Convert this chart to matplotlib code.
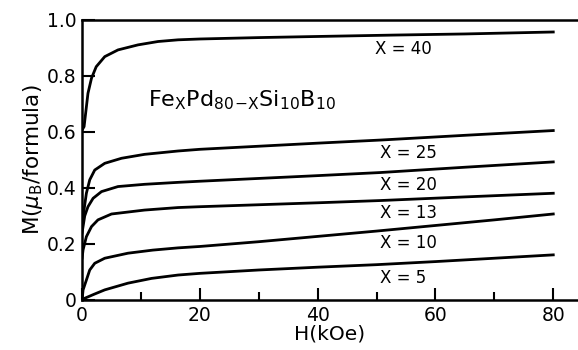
import matplotlib
matplotlib.use('Agg')
import matplotlib.pyplot as plt

# M(H) curves, H in kOe, M in muB/formula
h40 = [0, 0.34, 1.0, 1.6, 2.4, 3.85, 6.1, 9.5, 12.9, 16.3, 20, 30, 40, 53, 65, 80]
m40 = [0.607, 0.619, 0.738, 0.792, 0.833, 0.869, 0.893, 0.911, 0.923, 0.929, 0.932, 0.937, 0.941, 0.946, 0.950, 0.957]

h25 = [0, 0.17, 0.73, 1.3, 2.15, 3.85, 6.7, 10.6, 16.3, 20, 30, 40, 50.6, 65, 80]
m25 = [0.26, 0.298, 0.381, 0.429, 0.464, 0.488, 0.506, 0.520, 0.532, 0.538, 0.549, 0.560, 0.571, 0.588, 0.605]

h20 = [0, 0.45, 1.0, 1.87, 3.3, 6.1, 10.6, 16.3, 20, 30, 40, 50.6, 65, 80]
m20 = [0.24, 0.30, 0.333, 0.363, 0.387, 0.405, 0.413, 0.420, 0.424, 0.434, 0.444, 0.455, 0.474, 0.493]

h13 = [0, 0.17, 0.73, 1.6, 2.7, 5.0, 10.6, 16.3, 20, 30, 40, 50.6, 65, 80]
m13 = [0.15, 0.179, 0.226, 0.262, 0.286, 0.307, 0.321, 0.330, 0.333, 0.340, 0.347, 0.355, 0.368, 0.381]

h10 = [0, 0.17, 0.73, 1.3, 2.15, 3.85, 7.8, 12, 16.3, 20, 30, 40, 50, 60, 70, 80]
m10 = [0.0, 0.036, 0.071, 0.107, 0.131, 0.149, 0.167, 0.178, 0.186, 0.191, 0.208, 0.227, 0.246, 0.266, 0.286, 0.307]

h5 = [0, 0.45, 2.0, 3.85, 7.8, 11.8, 16.3, 20, 30, 40, 50, 60, 70, 80]
m5 = [0.0, 0.006, 0.020, 0.036, 0.060, 0.077, 0.089, 0.095, 0.107, 0.117, 0.126, 0.137, 0.149, 0.161]

curves = [(h40, m40), (h25, m25), (h20, m20), (h13, m13), (h10, m10), (h5, m5)]
labels = ['X = 40', 'X = 25', 'X = 20', 'X = 13', 'X = 10', 'X = 5']
label_y = [0.896, 0.525, 0.41, 0.31, 0.204, 0.079]
label_x = [49.8, 50.6, 50.6, 50.6, 50.6, 50.6]

plt.rcParams['font.family'] = ['DejaVu Sans']
plt.rcParams['mathtext.fontset'] = 'dejavusans'

fig = plt.figure(figsize=(5.78, 3.5), dpi=100)
ax = fig.add_axes([0.142, 0.143, 0.858, 0.8])

for h, m in curves:
    ax.plot(h, m, color='black', lw=2.0, solid_joinstyle='round')

for lab, lx, ly in zip(labels, label_x, label_y):
    ax.text(lx, ly, lab, fontsize=12, ha='left', va='center')

ax.text(11.2, 0.712, r'Fe$_{\rm X}$Pd$_{\rm 80\!-\!X}$Si$_{\rm 10}$B$_{\rm 10}$',
        fontsize=16, ha='left', va='center')

ax.set_xlim(0, 84.2)
ax.set_ylim(0, 1.0)
ax.set_xticks([0, 20, 40, 60, 80])
ax.set_xticks([10, 30, 50, 70], minor=True)
ax.set_yticks([0, 0.2, 0.4, 0.6, 0.8, 1.0])
ax.set_yticklabels(['0', '0.2', '0.4', '0.6', '0.8', '1.0'])
ax.tick_params(which='major', direction='in', length=9, width=1.5, labelsize=13.5, pad=4)
ax.tick_params(which='minor', direction='in', length=6, width=1.5)
ax.spines['right'].set_visible(False)
for s in ['left', 'bottom', 'top']:
    ax.spines[s].set_linewidth(1.8)

ax.set_xlabel('H(kOe)', fontsize=14.5, labelpad=0)
ax.set_ylabel(r'M($\mu_{\rm B}$/formula)', fontsize=15.5, labelpad=1)

fig.savefig('out.png', dpi=100)
